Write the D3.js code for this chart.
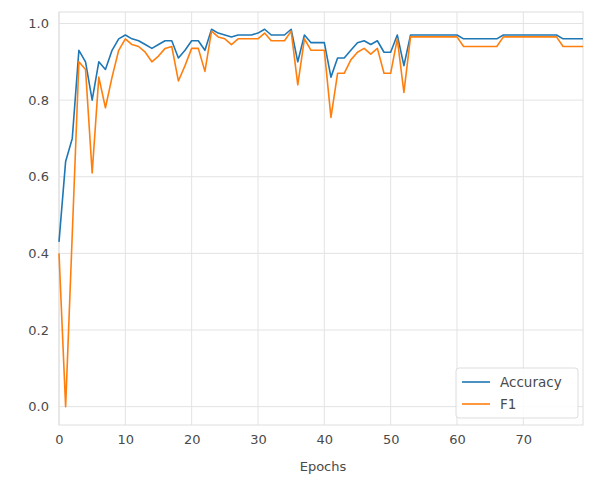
<!DOCTYPE html>
<html>
<head>
<meta charset="utf-8">
<script src="https://cdn.jsdelivr.net/npm/d3@7"></script>
<style>
  body { margin: 0; background: #fff; }
  svg { font-family: "DejaVu Sans", sans-serif; }
</style>
</head>
<body>
<svg id="chart" width="601" height="481"></svg>
<script>
// values, one per epoch (0..79)
var epochs = d3.range(0, 80);
var accuracy = [
  0.43, 0.64, 0.70, 0.93, 0.90, 0.80, 0.90, 0.88, 0.93, 0.96,
  0.97, 0.96, 0.955, 0.945, 0.935, 0.945, 0.955, 0.955, 0.91, 0.93,
  0.955, 0.955, 0.93, 0.985, 0.975, 0.97, 0.965, 0.97, 0.97, 0.97,
  0.975, 0.985, 0.97, 0.97, 0.97, 0.985, 0.90, 0.97, 0.95, 0.95,
  0.95, 0.86, 0.91, 0.91, 0.93, 0.95, 0.955, 0.945, 0.955, 0.925,
  0.925, 0.97, 0.89, 0.97, 0.97, 0.97, 0.97, 0.97, 0.97, 0.97,
  0.97, 0.96, 0.96, 0.96, 0.96, 0.96, 0.96, 0.97, 0.97, 0.97,
  0.97, 0.97, 0.97, 0.97, 0.97, 0.97, 0.96, 0.96, 0.96, 0.96
];
var f1 = [
  0.40, 0.0, 0.45, 0.90, 0.88, 0.61, 0.86, 0.78, 0.86, 0.93,
  0.96, 0.945, 0.94, 0.925, 0.90, 0.915, 0.935, 0.94, 0.85, 0.89,
  0.935, 0.935, 0.875, 0.98, 0.965, 0.96, 0.945, 0.96, 0.96, 0.96,
  0.96, 0.975, 0.955, 0.955, 0.955, 0.98, 0.84, 0.96, 0.93, 0.93,
  0.93, 0.755, 0.87, 0.87, 0.905, 0.925, 0.935, 0.92, 0.935, 0.87,
  0.87, 0.96, 0.82, 0.965, 0.965, 0.965, 0.965, 0.965, 0.965, 0.965,
  0.965, 0.94, 0.94, 0.94, 0.94, 0.94, 0.94, 0.965, 0.965, 0.965,
  0.965, 0.965, 0.965, 0.965, 0.965, 0.965, 0.94, 0.94, 0.94, 0.94
];
var xTicks = [0, 10, 20, 30, 40, 50, 60, 70];
var yTicks = [0.0, 0.2, 0.4, 0.6, 0.8, 1.0];
var seriesNames = ["Accuracy", "F1"];
var seriesColors = ["#1f77b4", "#ff7f0e"];

var svg = d3.select("#chart");
var margin = { left: 59, right: 18, top: 12, bottom: 56 };
var width = 601 - margin.left - margin.right;
var height = 481 - margin.top - margin.bottom;

var x = d3.scaleLinear().domain([0, 79]).range([0, width]);
var y = d3.scaleLinear().domain([-0.048, 1.03]).range([height, 0]);

var g = svg.append("g").attr("transform", "translate(" + margin.left + "," + margin.top + ")");

// grid
g.selectAll(".gx").data(xTicks).enter().append("line")
  .attr("x1", d => x(d)).attr("x2", d => x(d))
  .attr("y1", 0).attr("y2", height)
  .attr("stroke", "#e3e3e3").attr("stroke-width", 1);
g.selectAll(".gy").data(yTicks).enter().append("line")
  .attr("x1", 0).attr("x2", width)
  .attr("y1", d => y(d)).attr("y2", d => y(d))
  .attr("stroke", "#e3e3e3").attr("stroke-width", 1);

// frame
g.append("rect").attr("width", width).attr("height", height)
  .attr("fill", "none").attr("stroke", "#dedede").attr("stroke-width", 1);

// axes (labels only, whitegrid style)
var xAxis = g.append("g").attr("transform", "translate(0," + height + ")")
  .call(d3.axisBottom(x).tickValues(xTicks).tickSize(0).tickPadding(10).tickFormat(d3.format("d")));
var yAxis = g.append("g")
  .call(d3.axisLeft(y).tickValues(yTicks).tickSize(0).tickPadding(10).tickFormat(d3.format(".1f")));
[xAxis, yAxis].forEach(function (a) {
  a.select(".domain").remove();
  a.selectAll("text").attr("fill", "#4a4a4a").style("font-size", "13px")
    .style("font-family", "'DejaVu Sans', sans-serif");
});

// lines
var series = [accuracy, f1];
series.forEach(function (vals, i) {
  var line = d3.line().x((d, j) => x(epochs[j])).y(d => y(d));
  g.append("path").datum(vals)
    .attr("d", line)
    .attr("fill", "none")
    .attr("stroke", seriesColors[i])
    .attr("stroke-width", 1.6)
    .attr("stroke-linejoin", "round");
});

// x label
g.append("text").attr("x", width / 2 + 2).attr("y", height + 46)
  .attr("text-anchor", "middle").attr("fill", "#4a4a4a")
  .style("font-size", "13px").text("Epochs");

// legend
var lg = g.append("g").attr("transform", "translate(" + (width - 127) + "," + (height - 57) + ")");
lg.append("rect").attr("width", 122).attr("height", 50).attr("rx", 3)
  .attr("fill", "#fff").attr("fill-opacity", 0.85)
  .attr("stroke", "#dddddd");
seriesNames.forEach(function (name, i) {
  var yy = 14 + i * 22;
  lg.append("line").attr("x1", 6).attr("x2", 34).attr("y1", yy).attr("y2", yy)
    .attr("stroke", seriesColors[i]).attr("stroke-width", 1.6);
  lg.append("text").attr("x", 44).attr("y", yy + 5)
    .attr("fill", "#4a4a4a").style("font-size", "13.5px").text(name);
});
</script>
</body>
</html>
